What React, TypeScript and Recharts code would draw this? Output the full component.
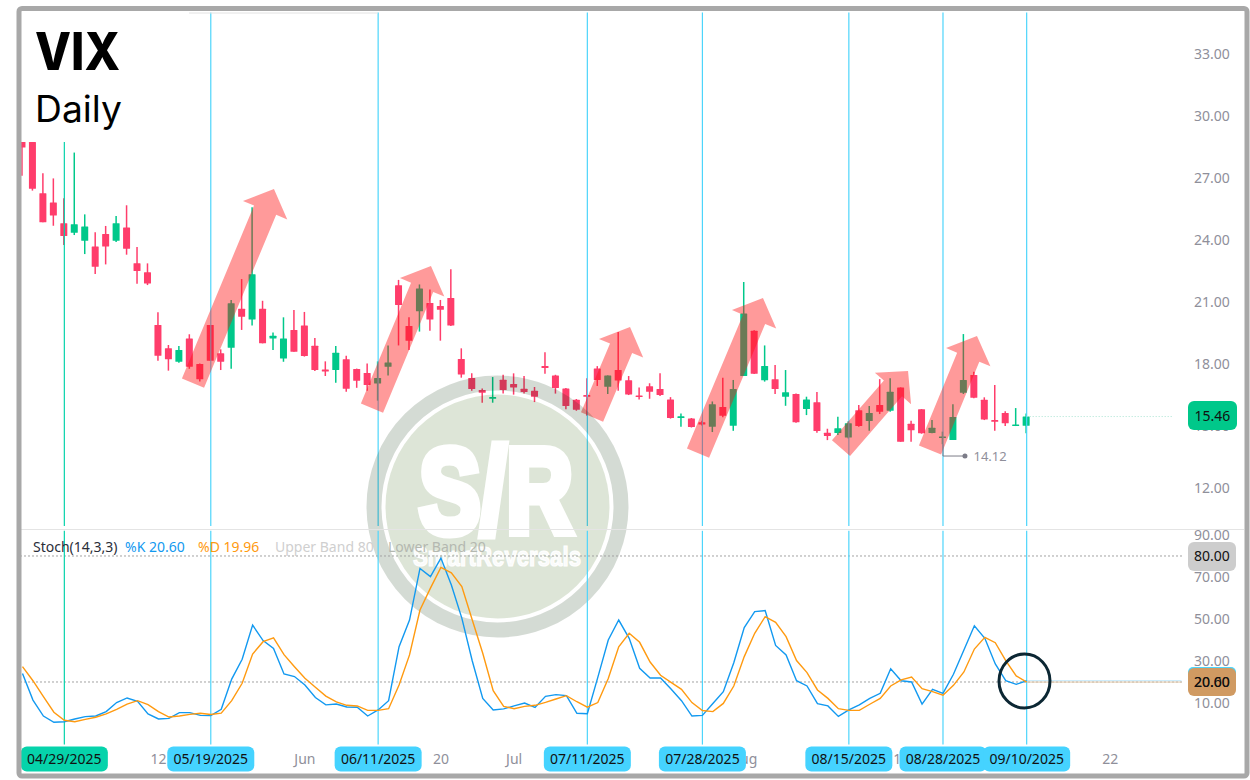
import { Bar, ComposedChart, Line, ReferenceDot, ReferenceLine, XAxis, YAxis } from "recharts";

const opens = [
  28.74, 28.74, 26.26, 25.81, 24.81, 24.35, 23.97, 23.68, 24.29, 23.97,
  24.61, 22.87, 22.44, 19.89, 18.76, 18.11, 19.24, 18.0, 19.89, 18.52,
  18.79, 20.68, 20.16, 20.68, 19.23, 18.27, 19.65, 19.87, 18.89, 17.74,
  17.71, 18.23, 17.76, 17.57, 17.06, 17.87, 21.81, 19.84, 20.55, 20.95,
  20.81, 21.19, 18.24, 17.32, 16.74, 16.32, 17.24, 17.03, 16.81, 16.71,
  17.9, 17.45, 16.82, 16.27, 16.5, 17.79, 16.9, 17.71, 17.21, 16.48,
  16.92, 16.79, 16.29, 15.4, 15.37, 15.19, 14.97, 15.92, 15.02, 17.42,
  19.61, 17.21, 17.26, 16.42, 16.55, 15.82, 16.15, 14.68, 14.66, 14.45,
  15.77, 15.24, 16.02, 15.74, 16.87, 15.11, 15.81, 14.66, 14.44, 14.32,
  16.61, 17.47, 16.27, 15.29, 15.63, 15.03, 15.02,
];
const closes = [
  28.48, 26.48, 24.86, 25.18, 24.19, 24.76, 24.65, 22.71, 23.68, 24.81,
  23.58, 22.5, 21.9, 18.4, 18.23, 18.68, 17.87, 17.26, 18.16, 18.11,
  20.94, 20.29, 22.34, 19.0, 19.37, 19.24, 18.6, 18.39, 17.71, 17.64,
  18.55, 16.81, 17.19, 16.98, 17.32, 18.08, 20.86, 19.13, 21.66, 20.16,
  20.63, 19.86, 17.5, 16.79, 16.61, 16.4, 16.74, 16.86, 16.65, 16.42,
  17.81, 16.84, 15.97, 15.79, 16.42, 17.23, 17.45, 17.2, 16.53, 16.42,
  16.66, 16.5, 15.39, 15.47, 14.95, 15.07, 16.05, 15.5, 16.79, 20.44,
  17.53, 17.9, 16.79, 16.63, 15.18, 16.29, 14.76, 14.52, 14.89, 15.13,
  15.0, 15.63, 15.69, 16.66, 14.24, 14.8, 14.65, 14.92, 14.5, 15.44,
  17.23, 16.37, 15.32, 15.21, 15.14, 15.08, 15.46,
];
const highs = [
  28.74, 28.74, 27.23, 26.98, 26.02, 28.23, 25.24, 24.37, 24.68, 25.16,
  25.68, 23.66, 22.87, 20.5, 18.92, 18.87, 19.44, 18.03, 19.89, 18.71,
  21.1, 22.11, 25.58, 21.06, 19.52, 20.26, 20.61, 20.52, 19.26, 18.13,
  18.87, 18.4, 17.78, 18.03, 18.13, 18.9, 22.07, 20.26, 21.85, 21.61,
  21.1, 22.58, 18.76, 17.55, 16.82, 17.37, 17.48, 17.55, 17.42, 16.89,
  18.57, 17.48, 16.84, 16.31, 17.31, 17.9, 17.45, 19.55, 17.42, 16.87,
  17.07, 17.55, 16.4, 15.61, 15.39, 15.26, 16.19, 17.34, 17.23, 21.97,
  19.63, 18.9, 17.95, 17.71, 16.57, 16.42, 16.65, 14.87, 15.45, 15.24,
  16.02, 15.97, 17.27, 17.31, 16.87, 15.26, 15.82, 15.29, 14.73, 16.05,
  19.45, 17.63, 16.39, 16.98, 15.72, 15.87, 15.61,
];
const lows = [
  27.11, 26.39, 24.86, 24.69, 23.76, 24.24, 23.32, 22.35, 22.82, 23.9,
  23.29, 21.89, 21.82, 18.16, 17.68, 18.06, 17.77, 17.16, 18.16, 17.71,
  17.77, 19.65, 19.86, 19.0, 18.68, 18.11, 18.6, 18.36, 17.66, 17.42,
  17.1, 16.66, 16.85, 16.71, 16.23, 17.44, 18.9, 18.68, 19.57, 19.61,
  19.13, 19.84, 17.34, 16.71, 16.13, 16.13, 16.57, 16.52, 16.58, 16.16,
  17.53, 16.57, 15.81, 15.74, 15.5, 16.94, 16.55, 16.71, 16.5, 16.29,
  16.32, 16.45, 15.36, 14.97, 14.93, 15.03, 14.71, 15.43, 14.77, 17.42,
  17.52, 17.15, 16.55, 15.98, 15.16, 15.53, 14.68, 14.32, 14.57, 14.4,
  14.97, 14.77, 15.58, 15.69, 14.24, 14.24, 14.63, 14.65, 14.12, 14.32,
  16.55, 16.35, 15.29, 14.77, 15.0, 15.0, 14.65,
];
const stochK = [
  24.1, 11.4, 3.8, 0.8, 1.1, 2.4, 3.5, 3.8, 5.9, 10.2,
  12.4, 10.8, 4.8, 2.4, 2.7, 5.4, 5.4, 4.1, 4.0, 7.0,
  21.4, 30.8, 47.1, 39.7, 36.0, 23.8, 22.6, 18.6, 12.6, 9.1,
  9.5, 8.1, 7.95, 3.8, 6.7, 11.1, 36.8, 49.5, 74.1, 70.2,
  79, 66.2, 50.4, 30, 12.2, 6.7, 7.2, 8.6, 10, 7.9,
  13.2, 14, 13.5, 5.1, 4.9, 22.2, 40, 49.5, 40.8, 26.5,
  21.9, 21.9, 16.7, 11.1, 3.8, 4.1, 9.8, 15.4, 29.2, 45.9,
  53.5, 54, 37.4, 32.9, 20.6, 18.1, 9.7, 8.6, 3.6, 6.7,
  9.1, 12.2, 14.6, 26.3, 20.6, 20, 9.5, 16.5, 14.6, 23.7,
  35.2, 46.8, 40.8, 28.6, 20.6, 18.9, 20.6,
];
const stochD = [
  27.3, 20.6, 13, 5.6, 1.8, 1.1, 2.2, 3.2, 4.8, 7,
  9.5, 11.1, 9.2, 5.9, 3.3, 3.8, 4.6, 5.1, 4.5, 5.2,
  11.1, 19.4, 33.3, 39.2, 41, 33, 27.3, 21.8, 17.5, 13.3,
  10.5, 8.9, 8.6, 6.5, 6.5, 7.3, 18.6, 32.9, 54.3, 64.7,
  74.6, 72, 65.4, 49.5, 33.7, 15.9, 8.4, 7.3, 8.4, 8.9,
  10.3, 11.9, 13.5, 10.6, 8, 10.2, 21.7, 36.8, 43.2, 38.9,
  29.5, 23.2, 19.8, 16.5, 10.2, 6.4, 5.9, 9.8, 18.1, 32.1,
  43.2, 51.1, 48.4, 41.6, 30.2, 24.5, 16.2, 12.2, 7.3, 6.5,
  6.5, 9.4, 12.2, 18.1, 21, 22.4, 16.8, 15.4, 13.7, 18.4,
  24.8, 35.7, 41.3, 38.7, 30.2, 22.9, 19.96,
];

// vertical markers and their date pills
const markerIdx = [4, 18, 34, 54, 65, 79, 88, 96];
const markerDates = ["04/29/2025", "05/19/2025", "06/11/2025", "07/11/2025", "07/28/2025", "08/15/2025", "08/28/2025", "09/10/2025"];
const timeIdx = [13, 27, 40, 47, 69, 84, 104];
const timeLabels = ["12", "Jun", "20", "Jul", "Aug", "18", "22"];
const priceTicks = [12, 15, 15.46, 18, 21, 24, 27, 30, 33];
const stochTicks = [90, 70, 50, 30, 10, 80, 20];

// [tail index, tail price, tip index, tip price]
const arrows = [
  [16.3, 17.08, 24.04, 26.47],
  [33.41, 15.87, 39.05, 22.74],
  [54.45, 15.44, 58.08, 19.79],
  [64.58, 13.69, 70.79, 21.19],
  [78.25, 13.93, 84.66, 17.66],
  [86.76, 13.84, 91.25, 19.36],
];

const RED = "#ff3d6b";
const GREEN = "#00c88a";
const CYAN = "#4dd5fb";
const TEAL = "#06d3ab";
const GRAY_TEXT = "#8f8f9a";
const FONT = "'Noto Sans', sans-serif";
const X_DOMAIN = [-0.239, 110.85];

const priceData = opens.map((open, i) => ({
  i,
  open,
  close: closes[i],
  range: [lows[i], highs[i]],
}));
const stochData = stochK.map((k, i) => ({ i, k, d: stochD[i] }));

function Candle(props: any) {
  const { x, y, width, height, payload } = props;
  const [low, high] = payload.range;
  const perUnit = height / (high - low);
  const up = payload.close >= payload.open;
  const color = up ? GREEN : RED;
  const top = y + (high - Math.max(payload.open, payload.close)) * perUnit;
  const bodyH = Math.max(Math.abs(payload.close - payload.open) * perUnit, 1.6);
  const left = x - 0.8;
  const cx = left + width / 2;
  return (
    <g>
      <line x1={cx} x2={cx} y1={y} y2={y + height} stroke={color} strokeWidth={1.5} />
      <rect x={left} y={top} width={width} height={bodyH} fill={color} rx={0.5} />
    </g>
  );
}

function Arrow(props: any) {
  const { x1, y1, x2, y2 } = props;
  const len = Math.hypot(x2 - x1, y2 - y1);
  const ux = (x2 - x1) / len;
  const uy = (y2 - y1) / len;
  const nx = -uy;
  const ny = ux;
  const shaft = 12;
  const head = 23;
  const wing = 24;
  const bx = x2 - ux * head;
  const by = y2 - uy * head;
  const pts = [
    [x1 + nx * shaft, y1 + ny * shaft],
    [bx + nx * shaft, by + ny * shaft],
    [bx + nx * wing, by + ny * wing],
    [x2, y2],
    [bx - nx * wing, by - ny * wing],
    [bx - nx * shaft, by - ny * shaft],
    [x1 - nx * shaft, y1 - ny * shaft],
  ];
  return <polygon points={pts.map((p) => p.join(",")).join(" ")} fill="#ff0f0f" fillOpacity={0.42} />;
}

function Pill({ x, y, w, h, fill, text, r = 6 }: any) {
  return (
    <g>
      <rect x={x - w / 2} y={y - h / 2} width={w} height={h} rx={r} fill={fill} />
      <text x={x} y={y + 5} textAnchor="middle" fontSize={14} fontFamily={FONT} fill="#111">
        {text}
      </text>
    </g>
  );
}

function PriceTick(props: any) {
  const { x, y, payload } = props;
  if (payload.value === 15.46) {
    return <Pill x={x + 18.5} y={y - 1} w={49} h={29} fill={GREEN} text="15.46" />;
  }
  return (
    <text x={x} y={y + 5} fontSize={14} fontFamily={FONT} fill={GRAY_TEXT}>
      {payload.value.toFixed(2)}
    </text>
  );
}

function StochTick(props: any) {
  const { x, y, payload } = props;
  if (payload.value === 80) {
    return <Pill x={x + 18} y={y + 0.5} w={48} h={29} fill="#cdcdcd" text="80.00" />;
  }
  if (payload.value === 20) {
    return (
      <g>
        <rect x={x - 6} y={y - 15} width={48} height={20} rx={5} fill={CYAN} />
        <Pill x={x + 18} y={y} w={48} h={28} fill="#d09a62" text="20.60" />
        <text x={x + 18} y={y + 5} textAnchor="middle" fontSize={14} fontFamily={FONT} fill="#111">
          20.00
        </text>
      </g>
    );
  }
  return (
    <text x={x} y={y + 5} fontSize={14} fontFamily={FONT} fill={GRAY_TEXT}>
      {payload.value.toFixed(2)}
    </text>
  );
}

function TimeTick(props: any) {
  const { x, y, payload } = props;
  const m = markerIdx.indexOf(payload.value);
  if (m >= 0) {
    return <Pill x={x} y={y} w={87} h={25} fill={m === 0 ? TEAL : "#45d3ff"} text={markerDates[m]} />;
  }
  const t = timeIdx.indexOf(payload.value);
  return (
    <text x={x} y={y + 5} textAnchor="middle" fontSize={14} fontFamily={FONT} fill={GRAY_TEXT}>
      {timeLabels[t]}
    </text>
  );
}

function Watermark() {
  return (
    <svg width={1250} height={780} style={{ position: "absolute", left: 0, top: 0 }}>
      <circle cx={497.5} cy={506.5} r={123.5} fill="none" stroke="#002a00" strokeOpacity={0.17} strokeWidth={15} />
      <circle cx={497.5} cy={506.5} r={112} fill="#2b5e06" fillOpacity={0.16} />
      <text
        x={496}
        y={533}
        textAnchor="middle"
        fontSize={120}
        fontWeight={700}
        fontFamily="'Liberation Sans Narrow', 'Liberation Sans', sans-serif"
        fill="#fff"
        stroke="#fff"
        strokeWidth={9}
        strokeLinejoin="miter"
        textLength={154}
        lengthAdjust="spacingAndGlyphs"
      >
        S/R
      </text>
      <text
        x={497}
        y={566}
        textAnchor="middle"
        fontSize={27}
        fontWeight={700}
        fontFamily="'Liberation Sans Narrow', 'Liberation Sans', sans-serif"
        fill="#fff"
        fillOpacity={0.9}
        stroke="#fff"
        strokeWidth={1.2}
        textLength={168}
        lengthAdjust="spacingAndGlyphs"
      >
        SmartReversals
      </text>
    </svg>
  );
}

function PriceChart() {
  return (
    <ComposedChart
      width={1250}
      height={529}
      data={priceData}
      margin={{ top: 12, right: 0, bottom: 0, left: 20 }}
      style={{ position: "absolute", left: 0, top: 0 }}
    >
      <XAxis dataKey="i" type="number" domain={X_DOMAIN} allowDataOverflow hide />
      <YAxis
        orientation="right"
        width={68}
        domain={[10.02, 35.03]}
        allowDataOverflow
        ticks={priceTicks}
        interval={0}
        axisLine={false}
        tickLine={false}
        tickMargin={6}
        tick={<PriceTick />}
      />
      {markerIdx.map((idx, n) => (
        <ReferenceLine
          key={idx}
          segment={[{ x: idx, y: 10.16 }, { x: idx, y: 35 }]}
          stroke={n === 0 ? TEAL : CYAN}
          strokeWidth={1.2}
        />
      ))}
      <ReferenceLine
        segment={[{ x: 96, y: 15.46 }, { x: 110, y: 15.46 }]}
        stroke="#a9e3d2"
        strokeDasharray="1 2"
      />
      <Bar dataKey="range" barSize={7} shape={<Candle />} isAnimationActive={false} />
      {arrows.map((a) => (
        <ReferenceLine
          key={a[0]}
          segment={[{ x: a[0], y: a[1] }, { x: a[2], y: a[3] }]}
          shape={<Arrow />}
        />
      ))}
      <ReferenceLine segment={[{ x: 88, y: 14.12 }, { x: 88, y: 13.55 }]} stroke="#7c7c88" />
      <ReferenceLine segment={[{ x: 88, y: 13.55 }, { x: 90.1, y: 13.55 }]} stroke="#7c7c88" />
      <ReferenceDot
        x={90.1}
        y={13.55}
        r={2.5}
        fill="#7c7c88"
        stroke="none"
        label={{ value: "14.12", position: "right", offset: 6, fontSize: 13, fontFamily: FONT, fill: GRAY_TEXT }}
      />
    </ComposedChart>
  );
}

function StochChart() {
  const ticks = [...timeIdx, ...markerIdx];
  return (
    <ComposedChart
      width={1250}
      height={270}
      data={stochData}
      margin={{ top: 20, right: 0, bottom: 0, left: 20 }}
      style={{ position: "absolute", left: 0, top: 510 }}
    >
      <XAxis
        dataKey="i"
        type="number"
        domain={X_DOMAIN}
        allowDataOverflow
        ticks={ticks}
        interval={0}
        height={35}
        axisLine={false}
        tickLine={false}
        tickMargin={8}
        tick={<TimeTick />}
      />
      <YAxis
        orientation="right"
        width={68}
        domain={[-10, 92.38]}
        allowDataOverflow
        ticks={stochTicks}
        interval={0}
        axisLine={false}
        tickLine={false}
        tickMargin={6}
        tick={<StochTick />}
      />
      <ReferenceLine y={80} stroke="#a2a2a2" strokeDasharray="2 2" />
      <ReferenceLine y={20} stroke="#a2a2a2" strokeDasharray="2 2" />
      <ReferenceLine segment={[{ x: 96, y: 20.6 }, { x: 110.8, y: 20.6 }]} stroke="#bfe6fa" />
      <ReferenceLine segment={[{ x: 96, y: 19.96 }, { x: 110.8, y: 19.96 }]} stroke="#e4c9a8" />
      {markerIdx.map((idx, n) => (
        <ReferenceLine
          key={idx}
          segment={[{ x: idx, y: 92 }, { x: idx, y: -9.8 }]}
          stroke={n === 0 ? TEAL : CYAN}
          strokeWidth={1.2}
        />
      ))}
      <Line dataKey="k" stroke="#1299f0" strokeWidth={1.4} dot={false} isAnimationActive={false} />
      <Line dataKey="d" stroke="#ff9a10" strokeWidth={1.4} dot={false} isAnimationActive={false} />
    </ComposedChart>
  );
}

const legendItems = [
  { x: 33, text: "Stoch(14,3,3)", color: "#2a2e39" },
  { x: 125, text: "%K 20.60", color: "#1299f0" },
  { x: 198, text: "%D 19.96", color: "#ff9a10" },
  { x: 275, text: "Upper Band 80", color: "#cfcfcf" },
  { x: 388, text: "Lower Band 20", color: "#b4b8b0" },
];

function Overlay() {
  return (
    <svg width={1250} height={780} style={{ position: "absolute", left: 0, top: 0 }}>
      <rect x={21} y={11} width={168} height={131} fill="#fff" />
      <line x1={189} x2={378} y1={13} y2={13} stroke="#e2e2e2" />
      <line x1={21} x2={1244} y1={529.5} y2={529.5} stroke="#e4e4e4" />
      {legendItems.map((l) => (
        <text key={l.x} x={l.x} y={552} fontSize={14} fontFamily={FONT} fill={l.color}>
          {l.text}
        </text>
      ))}
      <text
        x={35}
        y={70}
        fontSize={52}
        fontWeight={800}
        fontFamily="Inter, sans-serif"
        fill="#000"
        textLength={85}
        lengthAdjust="spacingAndGlyphs"
      >
        VIX
      </text>
      <text x={35} y={122} fontSize={37} fontFamily="Inter, sans-serif" fill="#000" textLength={87} lengthAdjust="spacingAndGlyphs">
        Daily
      </text>
      <ellipse cx={1024.5} cy={681} rx={25.5} ry={27} fill="none" stroke="#0c2733" strokeWidth={3} />
      <rect x={19} y={8.5} width={1228} height={767.5} rx={3} fill="none" stroke="#a8a8a8" strokeWidth={5} />
    </svg>
  );
}

export default function App() {
  return (
    <div style={{ position: "absolute", left: 0, top: 0, width: 1250, height: 780, background: "#fff", overflow: "hidden" }}>
      <PriceChart />
      <Watermark />
      <StochChart />
      <Overlay />
    </div>
  );
}
